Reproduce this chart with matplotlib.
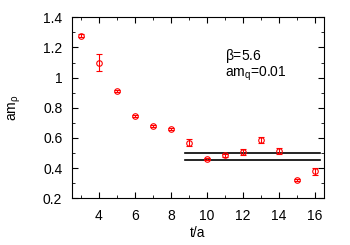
import matplotlib
matplotlib.use("Agg")
import matplotlib.pyplot as plt
from matplotlib.ticker import MultipleLocator

plt.rcParams['font.family'] = ['Liberation Sans', 'DejaVu Sans']
plt.rcParams['font.size'] = 10

t = [3, 4, 5, 6, 7, 8, 9, 10, 11, 12, 13, 14, 15, 16]
am_rho = [1.278, 1.100, 0.913, 0.743, 0.679, 0.659, 0.568, 0.460, 0.485, 0.509, 0.586, 0.511, 0.323, 0.379]
err = [0.008, 0.056, 0.008, 0.006, 0.006, 0.006, 0.022, 0.008, 0.012, 0.020, 0.020, 0.020, 0.008, 0.022]
band = [0.452, 0.502]
band_x = [8.8, 16.3]

fig = plt.figure(figsize=(3.5, 2.45), dpi=100)
ax = fig.add_axes([72/350, 1 - 198.3/245, (323.7-72)/350, (198.3-17.3)/245])

for b in band:
    ax.plot(band_x, [b, b], color='black', lw=1.2, zorder=2)

ax.errorbar(t, am_rho, yerr=err, fmt='o', mfc='none', mec='red', ecolor='red',
            ms=4, mew=0.8, elinewidth=0.8, capsize=2, capthick=0.8, zorder=3)

ax.set_xlim(2.5, 16.5)
ax.set_ylim(0.2, 1.4)
ax.xaxis.set_major_locator(MultipleLocator(2))
ax.xaxis.set_minor_locator(MultipleLocator(1))
ax.yaxis.set_minor_locator(MultipleLocator(0.1))
ax.set_yticks([0.2, 0.4, 0.6, 0.8, 1.0, 1.2, 1.4])
ax.set_yticklabels(['0.2', '0.4', '0.6', '0.8', '1', '1.2', '1.4'])
ax.tick_params(which='both', direction='in', top=True, right=True)
ax.tick_params(axis='y', pad=7)
ax.tick_params(axis='x', pad=8)
ax.tick_params(which='major', length=4)
ax.tick_params(which='minor', length=2)

ax.text(11.0, 1.12, r'$\mathregular{\beta}$=5.6', fontsize=10, va='baseline')
ax.text(11.0, 1.01, r'am$\mathregular{_q}$=0.01', fontsize=10, va='baseline')

ax.set_xlabel('t/a', labelpad=2)
ax.set_ylabel(r'am$\mathregular{_\rho}$', labelpad=14)

fig.savefig('out.png', dpi=100)
